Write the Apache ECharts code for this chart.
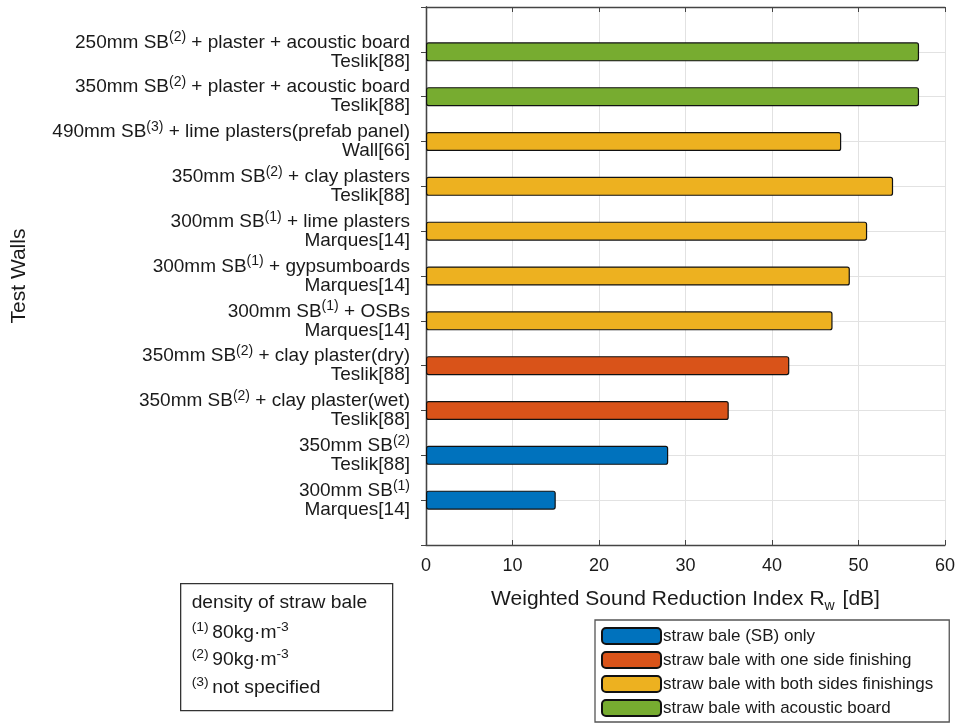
<!DOCTYPE html>
<html><head><meta charset="utf-8">
<script src="https://cdn.jsdelivr.net/npm/echarts@6/dist/echarts.min.js"></script>
<style>html,body{margin:0;padding:0;background:#fff}#c{width:959px;height:723px}</style>
</head><body><div id="c"></div>
<script>
// bottom to top
const walls = ['300mm SB', '350mm SB', '350mm SB', '350mm SB', '300mm SB', '300mm SB', '300mm SB', '350mm SB', '490mm SB', '350mm SB', '250mm SB'];
const densityNote = ['1', '2', '2', '2', '1', '1', '1', '2', '3', '2', '2'];
const finishes = ['', '', ' + clay plaster(wet)', ' + clay plaster(dry)', ' + OSBs', ' + gypsumboards', ' + lime plasters', ' + clay plasters', ' + lime plasters(prefab panel)', ' + plaster + acoustic board', ' + plaster + acoustic board'];
const sources = ['Marques[14]', 'Teslik[88]', 'Teslik[88]', 'Teslik[88]', 'Marques[14]', 'Marques[14]', 'Marques[14]', 'Teslik[88]', 'Wall[66]', 'Teslik[88]', 'Teslik[88]'];
const values = [15, 28, 35, 42, 47, 49, 51, 54, 48, 57, 57];
const groups = [0, 0, 1, 1, 2, 2, 2, 2, 2, 3, 3];
const groupNames = ['straw bale (SB) only', 'straw bale with one side finishing', 'straw bale with both sides finishings', 'straw bale with acoustic board'];
const groupColors = ['#0072BD', '#D95319', '#EDB120', '#77AC30'];
const xTicks = [0, 10, 20, 30, 40, 50, 60];
const densityTitle = 'density of straw bale';
const densityLines = [['1', '80kg·m', '-3'], ['2', '90kg·m', '-3'], ['3', 'not specified', '']];

const FONT = '"Liberation Sans", Arial, sans-serif';
const TXT = '#1a1a1a';

// category slots: padding slot at each end (MATLAB ylim 0..12)
const cats = [''].concat(walls.map((w, i) => String(i))).concat(['']);

const series = groupNames.map((name, g) => ({
  name: name,
  type: 'bar',
  barWidth: 19,
  barGap: '-100%',
  itemStyle: { color: groupColors[g], borderColor: '#111', borderWidth: 1.2, borderRadius: 2 },
  data: [null].concat(values.map((v, i) => groups[i] === g ? v : null)).concat([null])
}));

const labelRich = {
  a: { fontSize: 19, fontFamily: FONT, color: TXT, lineHeight: 19, align: 'right' },
  s: { fontSize: 14, fontFamily: FONT, color: TXT, lineHeight: 19, padding: [0, 0, 10, 0], align: 'right' }
};

const axisLineStyle = { color: '#444', width: 1.3 };

const option = {
  animation: false,
  backgroundColor: '#fff',
  grid: { left: 426, top: 7, width: 519, height: 538, containLabel: false },
  xAxis: [{
    type: 'value', min: 0, max: 60, interval: 10, position: 'bottom',
    axisLine: { show: true, lineStyle: axisLineStyle },
    axisTick: { show: true, inside: true, length: 5, lineStyle: { color: '#444' } },
    axisLabel: { fontSize: 18, fontFamily: FONT, color: TXT, margin: 12,
      formatter: v => xTicks.indexOf(v) >= 0 ? String(v) : '' },
    splitLine: { show: true, lineStyle: { color: '#e2e2e2', width: 1 } },
    name: '{n|Weighted Sound Reduction Index R}{w|w}{n| [dB]}',
    nameLocation: 'middle', nameGap: 40,
    nameTextStyle: { rich: {
      n: { fontSize: 21, fontFamily: FONT, color: TXT },
      w: { fontSize: 14, fontFamily: FONT, color: TXT, padding: [14, 2, 0, 0] }
    } }
  }, {
    type: 'value', min: 0, max: 60, interval: 10, position: 'top',
    axisLine: { show: true, lineStyle: axisLineStyle },
    axisTick: { show: true, inside: true, length: 5, lineStyle: { color: '#444' } },
    axisLabel: { show: false }, splitLine: { show: false }
  }],
  yAxis: [{
    type: 'category', data: cats, boundaryGap: false, position: 'left',
    axisLine: { show: true, lineStyle: axisLineStyle },
    axisTick: { show: true, inside: true, length: 5, interval: 0, lineStyle: { color: '#444' } },
    splitLine: { show: true, interval: 0, lineStyle: { color: '#e2e2e2' } },
    axisLabel: {
      interval: 0, margin: 16, align: 'right',
      formatter: (v) => {
        if (v === '') return '';
        const i = +v;
        return '{a|' + walls[i] + '}{s|(' + densityNote[i] + ')}{a|' + finishes[i] + '}\n{a|' + sources[i] + '}';
      },
      rich: labelRich
    },
    name: 'Test Walls', nameLocation: 'middle', nameGap: 396, nameRotate: 90,
    nameTextStyle: { fontSize: 21, fontFamily: FONT, color: TXT }
  }, {
    type: 'category', data: cats, boundaryGap: false, position: 'right',
    axisLine: { show: true, lineStyle: axisLineStyle },
    axisTick: { show: true, inside: true, length: 5, interval: 0, lineStyle: { color: '#444' } },
    axisLabel: { show: false }, splitLine: { show: false }
  }],
  legend: {
    orient: 'vertical', left: 595, top: 620, height: 120,
    itemWidth: 59, itemHeight: 16, itemGap: 6,
    padding: [7, 16, 5, 6],
    borderColor: '#555', borderWidth: 1.3,
    backgroundColor: '#fff',
    textStyle: { fontSize: 17, lineHeight: 17, fontFamily: FONT, color: TXT, padding: [0, 0, 0, -3] },
    data: groupNames,
    selectedMode: false
  },
  series: series,
  graphic: [{
    type: 'group', left: 180, top: 583,
    children: [{
      type: 'rect', shape: { x: 0, y: 0, width: 212, height: 127 },
      style: { fill: '#fff', stroke: '#333', lineWidth: 1.3 }
    }, {
      type: 'text', x: 11, y: 10, scaleX: 1.07,
      style: { text: densityTitle, font: '18px ' + FONT, fill: TXT }
    }].concat(densityLines.map((d, k) => ({
      type: 'text', x: 11, y: 38 + k * 27.5, scaleX: 1.07,
      style: {
        text: '{s|(' + d[0] + ')} {a|' + d[1] + '}' + (d[2] ? '{s|' + d[2] + '}' : ''),
        rich: {
          a: { fontSize: 18, fontFamily: FONT, fill: TXT, color: TXT, lineHeight: 22 },
          s: { fontSize: 13, fontFamily: FONT, fill: TXT, color: TXT, lineHeight: 22, padding: [0, 0, 11, 0] }
        }
      }
    })))
  }]
};

const chart = echarts.init(document.getElementById('c'), null, { renderer: 'canvas' });
chart.setOption(option);
</script>
</body></html>
